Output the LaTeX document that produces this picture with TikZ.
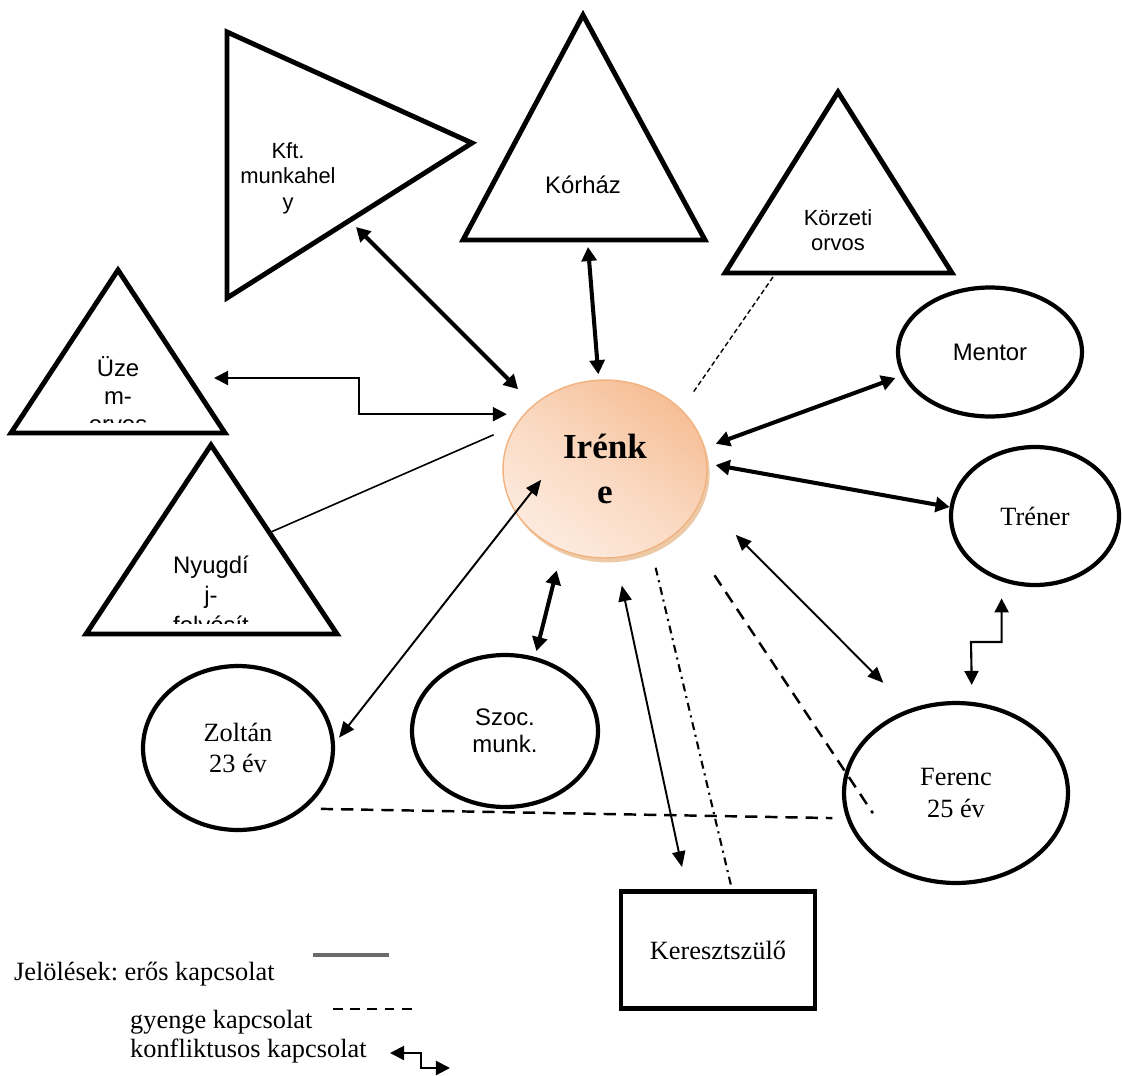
\documentclass[tikz,border=0pt]{standalone}
\usepackage{fontspec}
\setmainfont{Liberation Serif}
\setsansfont{Liberation Sans}
\usetikzlibrary{arrows.meta,shapes.geometric,shadows}
\frenchspacing

\definecolor{peachdark}{HTML}{F6BE96}
\definecolor{peachmid}{HTML}{FAD8C0}
\definecolor{peachlight}{HTML}{FDEBDF}
\definecolor{peachline}{HTML}{F2B27F}
\definecolor{legendgray}{HTML}{6B6B6B}

\tikzset{
  shapeline/.style={line width=2.8pt},
  oval/.style={ellipse, draw, line width=2.4pt, inner sep=0pt},
  sanstext/.style={font=\sffamily\fontsize{13.6}{16}\selectfont, align=center},
  smallsans/.style={font=\sffamily\fontsize{12.5}{14.5}\selectfont, align=center},
  sertext/.style={font=\fontsize{15}{18}\selectfont, align=center},
  strong/.style={line width=2.3pt, {Triangle[length=8pt,width=8.5pt]}-{Triangle[length=8pt,width=8.5pt]}},
  thinarrow/.style={line width=1.1pt, {Triangle[length=9pt,width=7.5pt]}-{Triangle[length=9pt,width=7.5pt]}},
  conflict/.style={line width=1.2pt, {Triangle[length=8pt,width=8pt]}-{Triangle[length=8pt,width=8pt]}},
  weak/.style={line width=1.4pt, dash pattern=on 7pt off 4.5pt},
  faint/.style={line width=0.8pt, dash pattern=on 2.8pt off 1.7pt},
  dashdot/.style={line width=1.2pt, dash pattern=on 4.5pt off 2.8pt on 1.2pt off 2.8pt}
}

\begin{document}
\begin{tikzpicture}[x=0.02cm, y=-0.02cm]
    \useasboundingbox (0,0) rectangle (1122,1075);

    \draw[shapeline] (227,32) -- (227,298) -- (472,143) -- cycle;
    \node[smallsans] (kft) at (288,178) {Kft.\\munkahel\\y};
    \draw[shapeline] (463,240) -- (583,15) -- (705,240) -- cycle;
    \node[sanstext] (korhaz) at (583,185) {Kórház};
    \draw[shapeline] (725,273) -- (838,92) -- (952,273) -- cycle;
    \node[smallsans] (korzeti) at (838,230) {Körzeti\\orvos};
    \draw[shapeline] (11,433) -- (118,270) -- (225,433) -- cycle;
    \begin{scope}
        \clip (0,250) rectangle (240,422);
        \node[sanstext] (uzem) at (118,395) {Üze\\m-\\orvos};
    \end{scope}
    \draw[shapeline] (86,634) -- (211,445) -- (337,634) -- cycle;
    \begin{scope}
        \clip (60,450) rectangle (360,623);
        \node[sanstext, font=\sffamily\fontsize{13.6}{17}\selectfont] (nyugdij) at (211,597) {Nyugdí\\j-\\folyósít};
    \end{scope}

    \node[ellipse, minimum width=4.08cm, minimum height=3.56cm, inner sep=0pt,
          draw=peachline, line width=0.8pt, top color=peachdark, bottom color=peachlight,
          middle color=peachmid, shading angle=-35,
          drop shadow={shadow xshift=1.5pt, shadow yshift=-2.5pt, fill=brown!70!orange!60, opacity=.7},
          font=\bfseries\fontsize{20}{25.5}\selectfont, align=center] (irenke) at (605,469) {Irénk\\e};

    \node[oval, sanstext, minimum width=3.68cm, minimum height=2.58cm] (mentor) at (990,352) {Mentor};
    \node[oval, sertext, minimum width=3.36cm, minimum height=2.76cm] (trener) at (1035,516) {Tréner};
    \node[oval, sertext, minimum width=4.48cm, minimum height=3.6cm] (ferenc) at (956,793) {Ferenc\\25 év};
    \node[oval, sertext, minimum width=3.8cm, minimum height=3.28cm] (zoltan) at (238,748) {Zoltán\\23 év};
    \node[oval, sanstext, font=\sffamily\fontsize{13.6}{15.3}\selectfont, minimum width=3.72cm, minimum height=3.04cm] (szoc) at (505,731) {Szoc.\\munk.};
    \node[draw, line width=2.7pt, sertext, minimum width=3.88cm, minimum height=2.34cm] (keresz) at (718,950) {Keresztszülő};

    \coordinate (kftS) at (356,227);
    \coordinate (korhazS) at (588,247);
    \coordinate (korzetiS) at (773,277);
    \coordinate (uzemS) at (214,378);
    \coordinate (uzemK) at (359,378);
    \coordinate (nyugS) at (271,532);
    \coordinate (tfK) at (971,642);

    \draw[strong, shorten >=12.4pt] (kftS) -- (irenke.138.4);
    \draw[strong, shorten >=3pt] (korhazS) -- (irenke.94.9);
    \draw[faint, shorten >=12.1pt] (korzetiS) -- (irenke.38.1);
    \draw[conflict, shorten >=9.6pt] (uzemS) -- (uzemK) |- (irenke.146.3);
    \draw[line width=0.9pt, shorten >=13.5pt] (nyugS) -- (irenke.154.1);
    \draw[thinarrow, shorten <=3.8pt, shorten >=-23.8pt] (zoltan.3.3) -- (irenke.206.8);
    \draw[strong, shorten <=3.4pt, shorten >=11.8pt] (szoc.68.5) -- (irenke.242.2);
    \draw[thinarrow, shorten <=15.9pt, shorten >=12.8pt] (irenke.277.2) -- ([xshift=-17.8pt]keresz.north);
    \draw[dashdot, shorten <=10.9pt] (irenke.300.5) -- ([xshift=7.9pt]keresz.north);
    \draw[weak, shorten <=32.6pt, shorten >=-28.6pt] (irenke.323.9) -- (ferenc.169.5);
    \draw[thinarrow, shorten <=27.8pt, shorten >=21pt] (irenke.342) -- (ferenc.119.9);
    \draw[strong, shorten <=4.7pt] (irenke.3.1) -- (trener.174.8);
    \draw[strong, shorten <=6.7pt, shorten >=4pt] (irenke.12.6) -- (mentor.195.5);
    \draw[conflict, shorten <=9.6pt, shorten >=9.6pt] (trener.243.4) |- (tfK) -- (ferenc.80.5);
    \draw[weak, shorten <=8.8pt, shorten >=7.9pt] (zoltan.318.6) -- (ferenc.193.8);

    \node[sertext, anchor=base west] (legend) at (8,980) {Jelölések: erős kapcsolat};
    \node[sertext, anchor=base west] (weaklbl) at (124,1028) {gyenge kapcsolat};
    \node[sertext, anchor=base west] (conflbl) at (124,1057) {konfliktusos kapcsolat};
    \coordinate (strongA) at (313,955);
    \coordinate (strongB) at (389,955);
    \coordinate (weakA) at (333,1009);
    \coordinate (weakB) at (418,1009);
    \coordinate (confA) at (390,1053);
    \coordinate (confK) at (421,1053);
    \coordinate (confB) at (450,1068);
    \draw[legendgray, line width=2.8pt] (strongA) -- (strongB);
    \draw[line width=1.4pt, dash pattern=on 5.5pt off 4.3pt] (weakA) -- (weakB);
    \draw[conflict] (confA) -- (confK) |- (confB);
\end{tikzpicture}
\end{document}
